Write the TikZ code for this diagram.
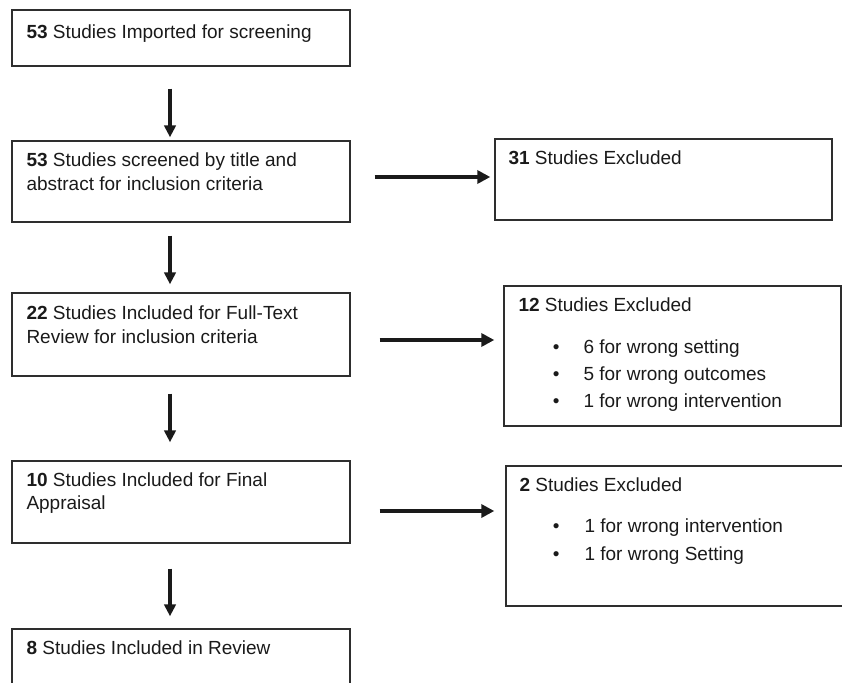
\documentclass[tikz,border=0pt]{standalone}
\usepackage{fontspec}
\setmainfont{Liberation Sans}
\usetikzlibrary{arrows.meta}
\definecolor{ink}{HTML}{1A1A1A}
\definecolor{frame}{HTML}{2E2E2E}
\begin{document}
\begin{tikzpicture}[x=1pt,y=-1pt,
  box/.style={draw=frame, line width=1.4pt, rectangle, inner sep=0pt},
  txt/.style={anchor=base west, inner sep=0pt, text=ink, font=\fontsize{19pt}{24pt}\selectfont},
  bul/.style={anchor=base, inner sep=0pt, text=ink, font=\fontsize{19pt}{24pt}\selectfont},
  varr/.style={draw=ink, line width=3.5pt, -{Triangle[length=12pt,width=11.5pt]}},
  harr/.style={draw=ink, line width=4pt, -{Triangle[length=13pt,width=13pt]}}]
\useasboundingbox (0,0) rectangle (842,682);
\clip (0,0) rectangle (842,682);
% left column boxes
\node[box, minimum width=338pt, minimum height=56pt] (b1) at (181,38) {};
\node[box, minimum width=338pt, minimum height=81pt] (b2) at (181,181.5) {};
\node[box, minimum width=338pt, minimum height=83pt] (b3) at (181,334.5) {};
\node[box, minimum width=338pt, minimum height=82pt] (b4) at (181,502) {};
\node[box, minimum width=338pt, minimum height=82pt] (b5) at (181,670) {};
% right column boxes
\node[box, minimum width=337pt, minimum height=81pt] (x31) at (663.5,179.5) {};
\node[box, minimum width=337pt, minimum height=140pt] (x12) at (672.5,356) {};
\node[box, minimum width=340pt, minimum height=140pt] (x2) at (676,536) {};
% texts left
\node[txt] (t1) at ([xshift=15pt,yshift=-29pt]b1.north west) {\textbf{53} Studies Imported for screening};
\node[txt] (t2a) at ([xshift=15pt,yshift=-26pt]b2.north west) {\textbf{53} Studies screened by title and};
\node[txt] (t2b) at ([yshift=-24pt]t2a.base west) {abstract for inclusion criteria};
\node[txt] (t3a) at ([xshift=15pt,yshift=-27pt]b3.north west) {\textbf{22} Studies Included for Full-Text};
\node[txt] (t3b) at ([yshift=-24pt]t3a.base west) {Review for inclusion criteria};
\node[txt] (t4a) at ([xshift=15pt,yshift=-26pt]b4.north west) {\textbf{10} Studies Included for Final};
\node[txt] (t4b) at ([yshift=-23pt]t4a.base west) {Appraisal};
\node[txt] (t5) at ([xshift=15pt,yshift=-26pt]b5.north west) {\textbf{8} Studies Included in Review};
% texts right
\node[txt] (u31) at ([xshift=14pt,yshift=-26pt]x31.north west) {\textbf{31} Studies Excluded};
\node[txt] (u12) at ([xshift=15pt,yshift=-26pt]x12.north west) {\textbf{12} Studies Excluded};
\node[bul] (p12a) at ([xshift=53pt,yshift=-68pt]x12.north west) {\textbullet};
\node[txt] (q12a) at ([xshift=80pt,yshift=-68pt]x12.north west) {6 for wrong setting};
\node[bul] (p12b) at ([xshift=53pt,yshift=-95pt]x12.north west) {\textbullet};
\node[txt] (q12b) at ([xshift=80pt,yshift=-95pt]x12.north west) {5 for wrong outcomes};
\node[bul] (p12c) at ([xshift=53pt,yshift=-122pt]x12.north west) {\textbullet};
\node[txt] (q12c) at ([xshift=80pt,yshift=-122pt]x12.north west) {1 for wrong intervention};
\node[txt] (u2) at ([xshift=14pt,yshift=-26pt]x2.north west) {\textbf{2} Studies Excluded};
\node[bul] (p2a) at ([xshift=51pt,yshift=-67pt]x2.north west) {\textbullet};
\node[txt] (q2a) at ([xshift=79pt,yshift=-67pt]x2.north west) {1 for wrong intervention};
\node[bul] (p2b) at ([xshift=51pt,yshift=-95pt]x2.north west) {\textbullet};
\node[txt] (q2b) at ([xshift=79pt,yshift=-95pt]x2.north west) {1 for wrong Setting};
% vertical arrows
\draw[varr] ([xshift=-11pt,yshift=-22pt]b1.south) -- ([xshift=-11pt,yshift=3pt]b2.north);
\draw[varr] ([xshift=-11pt,yshift=-13pt]b2.south) -- ([xshift=-11pt,yshift=8pt]b3.north);
\draw[varr] ([xshift=-11pt,yshift=-17pt]b3.south) -- ([xshift=-11pt,yshift=18pt]b4.north);
\draw[varr] ([xshift=-11pt,yshift=-25pt]b4.south) -- ([xshift=-11pt,yshift=12pt]b5.north);
% horizontal arrows
\draw[harr] ([xshift=24pt,yshift=4.5pt]b2.east) -- ([xshift=-4pt,yshift=2.5pt]x31.west);
\draw[harr] ([xshift=29pt,yshift=-5.5pt]b3.east) -- ([xshift=-9pt,yshift=16pt]x12.west);
\draw[harr] ([xshift=29pt,yshift=-9pt]b4.east) -- ([xshift=-11pt,yshift=25pt]x2.west);
\end{tikzpicture}
\end{document}
